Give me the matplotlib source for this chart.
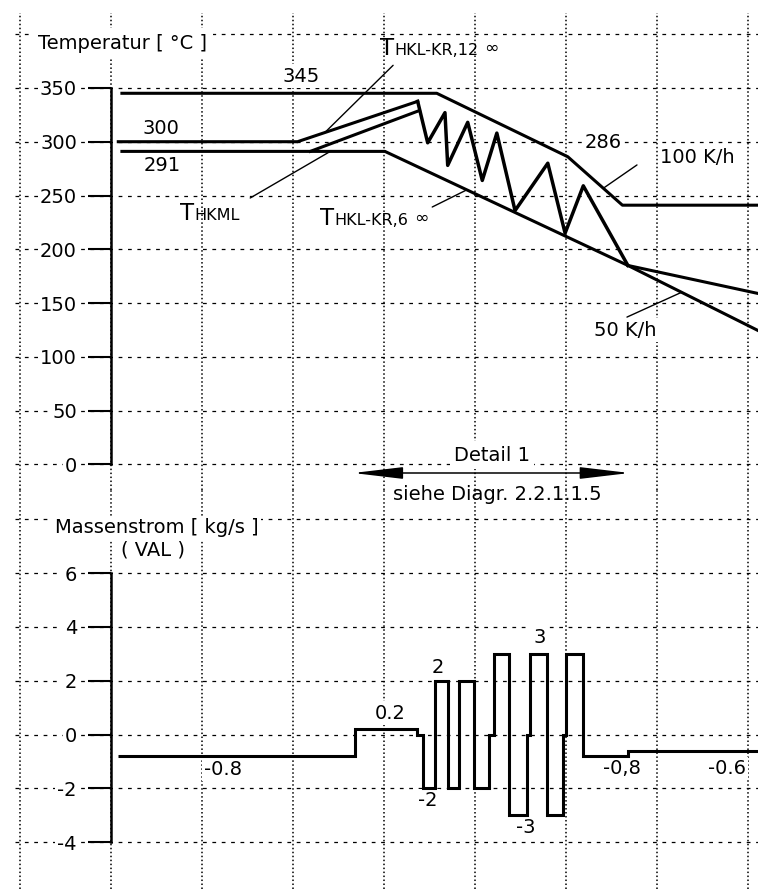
import numpy as np
import matplotlib
matplotlib.use("Agg")
import matplotlib.pyplot as plt

plt.rcParams["font.family"] = ["DejaVu Sans"]

# time axis in grid cells (no labels on the time axis)
# temperature curves [°C]
t_100kh = [0.12, 3.58, 5.02, 5.62, 7.3]
T_100kh = [345, 345, 286, 241, 241]

t_kr12 = [0.08, 2.05, 3.37]
T_kr12 = [300, 300, 337.5]

t_kml = [2.19, 3.39]
T_kml = [291, 329]

t_cycle = [3.37, 3.48, 3.67, 3.70, 3.92, 4.08, 4.24, 4.44, 4.80, 4.99, 5.19, 5.68]
T_cycle = [337.5, 299, 327, 278, 318, 264, 308, 236, 280, 215, 259, 185]

t_kr6 = [0.12, 3.01, 5.68, 7.3]
T_kr6 = [291, 291, 185, 116.5]

t_branch = [5.68, 7.3]
T_branch = [185, 155.5]

# mass flow (VAL) as steps [kg/s]
flow_edges = [0.08, 2.68, 3.36, 3.43, 3.56, 3.70, 3.82, 3.99, 4.15, 4.21,
              4.37, 4.57, 4.60, 4.79, 4.97, 5.00, 5.19, 5.68, 7.3]
flow_vals = [-0.8, 0.2, 0, -2, 2, -2, 2, -2, 0, 3, -3, 0, 3, -3, 0, 3, -0.8, -0.6]

temp_ticks = [0, 50, 100, 150, 200, 250, 300, 350]
temp_grid = [0, 50, 100, 150, 200, 250, 300, 350, 400]
flow_ticks = [-4, -2, 0, 2, 4, 6]
flow_grid = [-4, -2, 0, 2, 4, 6, 8]
tick_labels_flow = ["-4", "-2", "0", "2", "4", "6"]

W, H = 758, 889
fig = plt.figure(figsize=(W / 100, H / 100), dpi=100)
split = 490 / H
ax_t = fig.add_axes([0, 1 - split, 1, split])
ax_m = fig.add_axes([0, 0, 1, 1 - split])

xlim = (-111 / 91, 647 / 91)
ax_t.set_xlim(*xlim)
ax_m.set_xlim(*xlim)
ax_t.set_ylim(-23.7, 431.7)
ax_m.set_ylim(-5.74, 9.09)

LW = 2.2
FS = 14

for ax, levels, vtop, vbot, ticks, labels, bounds in [
    (ax_t, temp_grid, 419.6, -23.7, temp_ticks, [str(v) for v in temp_ticks], (0, 350)),
    (ax_m, flow_grid, 9.09, -5.74, flow_ticks, tick_labels_flow, (-4, 6)),
]:
    ax.patch.set_visible(False)
    ax.hlines(levels, -1.055, 7.3, colors="k", linestyles=(0, (3, 4.5)), lw=0.9, zorder=0.5)
    ax.vlines(np.arange(-1, 8), vbot, vtop, colors="k", linestyles=(0, (1, 1.6)), lw=1.1, zorder=0.5)
    for s in ["top", "right", "bottom"]:
        ax.spines[s].set_visible(False)
    ax.spines["left"].set_position(("data", 0))
    ax.spines["left"].set_bounds(*bounds)
    ax.spines["left"].set_linewidth(1.8)
    ax.spines["left"].set_zorder(3)
    ax.set_xticks([])
    ax.set_yticks(ticks)
    ax.set_yticklabels(labels)
    ax.tick_params(axis="y", length=16.5, width=1.5, pad=8, labelsize=FS, direction="out")
    for lab in ax.get_yticklabels():
        lab.set_bbox(dict(fc="white", ec="none", pad=1.5))

# temperature panel
ax_t.plot(t_100kh, T_100kh, color="k", lw=LW, zorder=3)
ax_t.plot(t_kr12, T_kr12, color="k", lw=LW, zorder=3)
ax_t.plot(t_kml, T_kml, color="k", lw=LW, zorder=3)
ax_t.plot(t_cycle, T_cycle, color="k", lw=2.5, zorder=3)
ax_t.plot(t_kr6, T_kr6, color="k", lw=LW, zorder=3)
ax_t.plot(t_branch, T_branch, color="k", lw=LW, zorder=3)

wbox = dict(fc="white", ec="none", pad=1.5)
ax_t.text(-0.80, 391.7, "Temperatur [ °C ]", fontsize=FS, va="center", ha="left",
          bbox=dict(fc="white", ec="none", pad=4), zorder=2)
ax_t.text(2.09, 361, "345", fontsize=FS, ha="center", va="center", bbox=wbox, zorder=2)
ax_t.text(0.55, 312.7, "300", fontsize=FS, ha="center", va="center", bbox=wbox, zorder=2)
ax_t.text(0.56, 278, "291", fontsize=FS, ha="center", va="center", bbox=wbox, zorder=2)
ax_t.text(5.41, 298.8, "286", fontsize=FS, ha="center", va="center", bbox=wbox, zorder=2)
ax_t.text(6.44, 284.9, "100 K/h", fontsize=FS, ha="center", va="center", bbox=wbox, zorder=2)
ax_t.text(5.65, 125, "50 K/h", fontsize=FS, ha="center", va="center", bbox=wbox, zorder=2)


def subscript_label(ax, x, y, sub, inf=False):
    t = ax.text(x, y, "T", fontsize=16.5, va="baseline", ha="left", zorder=2)
    s = ax.annotate(sub, xy=(1, 0), xycoords=t, xytext=(0.5, 1.2),
                    textcoords="offset points", va="bottom", ha="left", fontsize=11.5, zorder=2)
    if inf:
        ax.annotate("∞", xy=(1, 1), xycoords=s, xytext=(4, 3.5),
                    textcoords="offset points", va="top", ha="left", fontsize=12.5, zorder=2)


subscript_label(ax_t, 2.956, 380.6, "HKL-KR,12", inf=True)
subscript_label(ax_t, 0.758, 227.2, "HKML")
subscript_label(ax_t, 2.297, 222.6, "HKL-KR,6", inf=True)

leader = dict(arrowstyle="-", lw=1.0, color="k", shrinkA=0, shrinkB=0)
ax_t.annotate("", xy=(2.35, np.interp(2.35, t_kr12, T_kr12)), xytext=(3.10, 371), arrowprops=leader)
ax_t.annotate("", xy=(2.41, np.interp(2.41, t_kr6, T_kr6)), xytext=(1.53, 247.7), arrowprops=leader)
ax_t.annotate("", xy=(3.91, np.interp(3.91, t_kr6, T_kr6)), xytext=(3.53, 239.3), arrowprops=leader)
ax_t.annotate("", xy=(5.41, np.interp(5.41, t_100kh, T_100kh)), xytext=(5.78, 278.4), arrowprops=leader)
ax_t.annotate("", xy=(6.27, np.interp(6.27, t_kr6, T_kr6)), xytext=(5.67, 137), arrowprops=leader)

# detail range arrow
ax_t.annotate("", xy=(2.66, -7.9), xytext=(5.70, -7.9),
              arrowprops=dict(arrowstyle="<|-|>,head_length=2.2,head_width=0.26",
                              mutation_scale=14, lw=1.1, color="k", shrinkA=0, shrinkB=0),
              zorder=4)
ax_t.text(4.19, 8.8, "Detail 1", fontsize=FS, ha="center", va="center",
          bbox=dict(fc="white", ec="none", pad=3), zorder=2)
ax_t.text(4.24, -28.3, "siehe Diagr. 2.2.1.1.5", fontsize=FS, ha="center", va="center", zorder=2)

# mass flow panel
ax_m.stairs(flow_vals, flow_edges, baseline=None, color="k", lw=LW, zorder=3)
ax_m.text(0.5, 7.68, "Massenstrom [ kg/s ]", fontsize=FS, ha="center", va="center",
          bbox=dict(fc="white", ec="none", pad=2), zorder=2)
ax_m.text(0.46, 6.86, "( VAL )", fontsize=FS, ha="center", va="center", bbox=wbox, zorder=2)

ax_m.text(1.23, -1.3, "-0.8", fontsize=FS, ha="center", va="center", bbox=wbox, zorder=2)
ax_m.text(3.07, 0.8, "0.2", fontsize=FS, ha="center", va="center", bbox=wbox, zorder=2)
ax_m.text(3.59, 2.51, "2", fontsize=FS, ha="center", va="center", bbox=wbox, zorder=2)
ax_m.text(3.48, -2.44, "-2", fontsize=FS, ha="center", va="center", bbox=wbox, zorder=2)
ax_m.text(4.71, 3.62, "3", fontsize=FS, ha="center", va="center", bbox=wbox, zorder=2)
ax_m.text(4.56, -3.44, "-3", fontsize=FS, ha="center", va="center", bbox=wbox, zorder=2)
ax_m.text(5.62, -1.25, "-0,8", fontsize=FS, ha="center", va="center", bbox=wbox, zorder=2)
ax_m.text(6.77, -1.25, "-0.6", fontsize=FS, ha="center", va="center", bbox=wbox, zorder=2)

fig.savefig("out.png", dpi=100, facecolor="white")
